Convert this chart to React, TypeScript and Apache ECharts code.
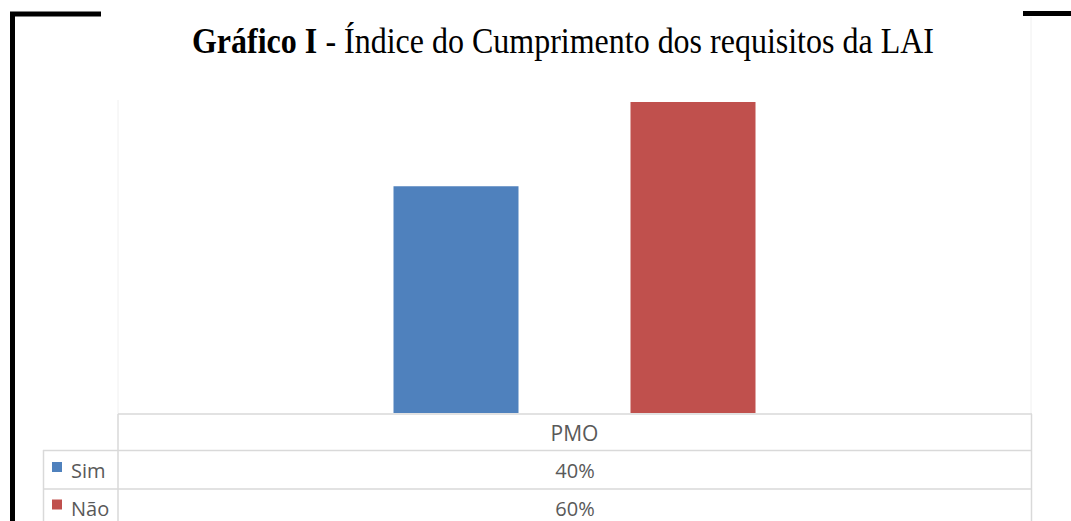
import React, { useEffect, useRef } from "react";
import * as echarts from "echarts";

const categories = ["PMO"];
const seriesNames = ["Sim", "Não"];
const simValues = [40];
const naoValues = [60];
const colors = ["#4f81bd", "#c0504d"];

export default function App() {
  const ref = useRef<HTMLDivElement>(null);
  useEffect(() => {
    if (!ref.current) return;
    const chart = echarts.init(ref.current, null, { renderer: "svg" });
    const grey = "#d9d9d9";
    const txt = "#595959";
    const font = "'Open Sans', 'Noto Sans', sans-serif";
    const allValues = [simValues, naoValues];
    const rowY = [470.5, 508];
    const serif = "'Liberation Serif', 'Times New Roman', serif";
    const graphic: any[] = [
      // black frame pieces
      { type: "line", shape: { x1: 12.5, y1: 12, x2: 12.5, y2: 521 }, style: { stroke: "#000", lineWidth: 5 } },
      { type: "line", shape: { x1: 10, y1: 14, x2: 101, y2: 14 }, style: { stroke: "#000", lineWidth: 5 } },
      { type: "line", shape: { x1: 1023, y1: 13.5, x2: 1071, y2: 13.5 }, style: { stroke: "#000", lineWidth: 5 } },
      // faint plot borders
      { type: "line", shape: { x1: 118, y1: 100, x2: 118, y2: 414 }, style: { stroke: "#f0f0f0", lineWidth: 1 } },
      { type: "line", shape: { x1: 1031, y1: 17, x2: 1031, y2: 414 }, style: { stroke: "#f0f0f0", lineWidth: 1 } },
      // data table grid
      { type: "line", shape: { x1: 118, y1: 414, x2: 1032, y2: 414 }, style: { stroke: grey, lineWidth: 1.5 } },
      { type: "line", shape: { x1: 43, y1: 450.5, x2: 1032, y2: 450.5 }, style: { stroke: grey, lineWidth: 1.5 } },
      { type: "line", shape: { x1: 43, y1: 489, x2: 1032, y2: 489 }, style: { stroke: grey, lineWidth: 1.5 } },
      { type: "line", shape: { x1: 118, y1: 414, x2: 118, y2: 521 }, style: { stroke: grey, lineWidth: 1.5 } },
      { type: "line", shape: { x1: 43.5, y1: 450, x2: 43.5, y2: 521 }, style: { stroke: grey, lineWidth: 1.5 } },
      { type: "line", shape: { x1: 1031.5, y1: 414, x2: 1031.5, y2: 521 }, style: { stroke: grey, lineWidth: 1.5 } },
      // title
      {
        type: "text",
        x: 563,
        y: 41,
        scaleY: 1.1,
        style: {
          text: "{a|Gráfico I}{b| - Índice do Cumprimento dos requisitos da LAI}",
          align: "center",
          verticalAlign: "middle",
          rich: {
            a: { fontFamily: serif, fontWeight: "bold", fontSize: 32, fill: "#000" },
            b: { fontFamily: serif, fontSize: 32, fill: "#000" },
          },
        },
      },
    ];
    seriesNames.forEach((name, i) => {
      graphic.push({ type: "rect", shape: { x: 52, y: rowY[i] - 8.5, width: 10, height: 10 }, style: { fill: colors[i] } });
      graphic.push({
        type: "text",
        x: 71,
        y: rowY[i],
        style: { text: name, fill: txt, font: `20px ${font}`, lineHeight: 16, align: "left", verticalAlign: "middle" },
      });
      graphic.push({
        type: "text",
        x: 575,
        y: rowY[i],
        style: { text: `${allValues[i][0]}%`, fill: txt, font: `20px ${font}`, lineHeight: 16, align: "center", verticalAlign: "middle" },
      });
    });

    chart.setOption({
      animation: false,
      backgroundColor: "#ffffff",
      grid: { left: 118, right: 40, top: 100, bottom: 108 },
      xAxis: {
        type: "category",
        data: categories,
        axisLine: { show: false },
        axisTick: { show: false },
        axisLabel: { color: txt, fontFamily: font, fontSize: 21, margin: 9 },
      },
      yAxis: {
        type: "value",
        min: -14,
        max: 60.5,
        startValue: -14,
        show: false,
        splitLine: { show: false },
      },
      series: [
        { name: seriesNames[0], type: "bar", data: simValues, barWidth: 125, barGap: "89.6%", itemStyle: { color: colors[0] } },
        { name: seriesNames[1], type: "bar", data: naoValues, barWidth: 125, itemStyle: { color: colors[1] } },
      ],
      graphic,
    });
    return () => chart.dispose();
  }, []);
  return <div ref={ref} style={{ position: "fixed", left: 0, top: 0, width: 1071, height: 521 }} />;
}
